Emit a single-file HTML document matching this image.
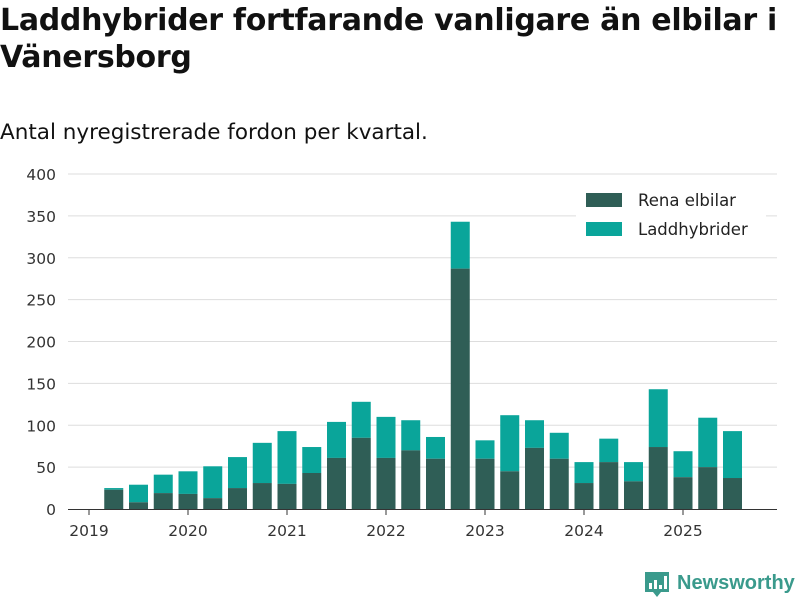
<!DOCTYPE html>
<html><head><meta charset="utf-8"><style>
body{margin:0;background:#fff;width:800px;height:600px;overflow:hidden;font-family:"DejaVu Sans","Liberation Sans",sans-serif;color:#111}
h1{position:absolute;left:0;top:2px;margin:0;font-size:30px;line-height:37px;font-weight:bold;width:800px;letter-spacing:-0.3px}
.sub{position:absolute;left:0;top:120px;font-size:21.5px}
</style></head><body>
<h1>Laddhybrider fortfarande vanligare än elbilar i Vänersborg</h1>
<div class="sub">Antal nyregistrerade fordon per kvartal.</div>
<svg id="c" width="800" height="600" style="position:absolute;left:0;top:0"></svg>
<script>
const elbil=[23,8,19,18,13,25,31,30,43,61,85,61,70,60,287,60,45,73,60,31,56,33,74,38,50,37];
const total=[25,29,41,45,51,62,79,93,74,104,128,110,106,86,343,82,112,106,91,56,84,56,143,69,109,93];
const yTicks=[0,50,100,150,200,250,300,350,400];
const years=[2019,2020,2021,2022,2023,2024,2025];
const startQ=1;
const svg=document.getElementById('c');const NS='http://www.w3.org/2000/svg';
function y(v){return 509-v*0.8375}
function x(q){return 89+q*24.75}
function mk(t,a,p){const e=document.createElementNS(NS,t);for(const k in a)e.setAttribute(k,a[k]);(p||svg).appendChild(e);return e}
yTicks.forEach(v=>{
 if(v>0){const l=mk('line',{x1:68,x2:777,y1:y(v),y2:y(v),stroke:'#dddddd','stroke-width':1});
 
 }
 const t=mk('text',{x:56,y:y(v)+6,'text-anchor':'end','font-size':15.5,fill:'#333'});t.textContent=v;
 
 
});
const ax=mk('line',{x1:68,x2:777,y1:509.5,y2:509.5,stroke:'#333','stroke-width':1});


years.forEach((yr,i)=>{const xx=x(i*4);
 const tk=mk('line',{x1:xx,x2:xx,y1:509,y2:515,stroke:'#333'});
 
 
 const t=mk('text',{x:xx,y:536,'text-anchor':'middle','font-size':15.5,fill:'#333'});t.textContent=yr;
 
 
});
elbil.forEach((v,i)=>{const cx=x(i+startQ),w=19;
 const r2=mk('rect',{x:cx-w/2,y:y(total[i]),width:w,height:y(v)-y(total[i]),fill:'#0aa59a'});
 
 
 const r1=mk('rect',{x:cx-w/2,y:y(v),width:w,height:509-y(v),fill:'#2f5e56'});
 
 
});
const lg=mk('g',{});


mk('rect',{x:576,y:183,width:190,height:62,fill:'#fff'},lg);
[['Rena elbilar','#2f5e56',200],['Laddhybrider','#0aa59a',229]].forEach(d=>{
 const r=mk('rect',{x:586,y:d[2]-7,width:36,height:14,fill:d[1]},lg);
 
 
 const t=mk('text',{x:638,y:d[2]+6,'font-size':16.5,fill:'#222'},lg);t.textContent=d[0];
 
 
});
const logo=mk('g',{});


mk('path',{d:'M645 572h24v20h-8l-4 5-4-5h-8z',fill:'#3a9a8c'},logo);
mk('rect',{x:649,y:583,width:3,height:6,fill:'#fff'},logo);
mk('rect',{x:654,y:580,width:3,height:9,fill:'#fff'},logo);
mk('rect',{x:659,y:585,width:3,height:4,fill:'#fff'},logo);
mk('rect',{x:664,y:576,width:3,height:13,fill:'#fff'},logo);
const lt=mk('text',{x:677,y:589,'font-size':20,'font-weight':'bold',fill:'#3a9a8c','font-family':'Liberation Sans, sans-serif'},logo);lt.textContent='Newsworthy';
</script>
</body></html>
